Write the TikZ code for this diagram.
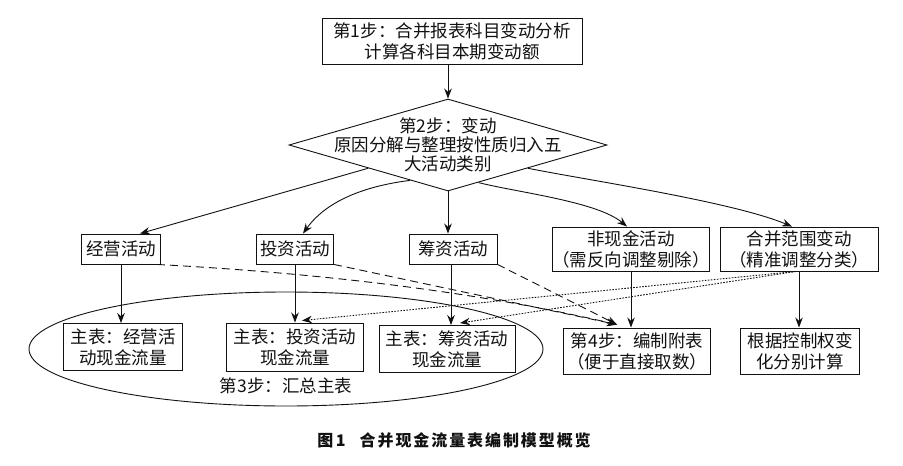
\documentclass[tikz,border=0pt]{standalone}
\usepackage{fontspec}
\usepackage{xcolor}
\usepackage{tikz}
\usetikzlibrary{arrows.meta,positioning,shapes.geometric}
\newfontfamily\zhfont{Noto Sans CJK SC}
\newfontfamily\zhcapfont[LetterSpace=12]{Noto Sans CJK SC}
\definecolor{ink}{HTML}{111111}

\begin{document}
\begin{tikzpicture}[x=1pt,y=-1pt,
  font=\zhfont\fontsize{17.5}{21}\selectfont,
  box/.style={draw=ink,line width=0.9pt,align=center,inner sep=0pt,text=ink},
  decision/.style={draw=ink,line width=0.9pt,diamond,inner sep=0pt,minimum width=318pt,minimum height=92pt},
  arr/.style={draw=ink,line width=0.9pt,-{Stealth[length=10pt,width=7.5pt]}},
  dashedarr/.style={arr,dash pattern=on 8pt off 5pt},
  dottedarr/.style={arr,dash pattern=on 1.6pt off 1.4pt}]
\useasboundingbox (0,0) rectangle (903,466);

\node[box,minimum width=260pt,minimum height=46pt] (s1) at (452,41) {第1步：合并报表科目变动分析\\计算各科目本期变动额};
\node[decision] (s2) at (448,145) {};
\node[align=center,text=ink,font=\zhfont\fontsize{17.5}{19}\selectfont] (s2t) at (s2) {第2步：变动\\原因分解与整理按性质归入五\\大活动类别};

\node[box,minimum width=79pt,minimum height=30pt] (a1) at (121,249) {经营活动};
\node[box,minimum width=77pt,minimum height=30pt] (a2) at (295,249) {投资活动};
\node[box,minimum width=88pt,minimum height=30pt] (a3) at (453,249) {筹资活动};
\node[box,minimum width=156pt,minimum height=44pt] (a4) at (631,249) {非现金活动\\（需反向调整剔除）};
\node[box,minimum width=158pt,minimum height=44pt] (a5) at (799,249) {合并范围变动\\（精准调整分类）};

\node[draw=ink,line width=0.9pt,ellipse,inner sep=0pt,minimum width=514pt,minimum height=114pt] (g3) at (286,349) {};
\node[text=ink] (g3t) at (286,386) {第3步：汇总主表};
\node[box,minimum width=119pt,minimum height=47pt] (b1) at (123,347) {主表：经营活\\动现金流量};
\node[box,minimum width=137pt,minimum height=48pt] (b2) at (295,347) {主表：投资活动\\现金流量};
\node[box,minimum width=136pt,minimum height=47pt] (b3) at (447,349) {主表：筹资活动\\现金流量};
\node[box,minimum width=147pt,minimum height=46pt] (b4) at (637,351) {第4步：编制附表\\（便于直接取数）};
\node[box,minimum width=119pt,minimum height=46pt] (b5) at (800,351) {根据控制权变\\化分别计算};

\node[text=ink,font=\zhcapfont\bfseries\fontsize{16}{19}\selectfont] (cap) at (454,440) {图\,1\hspace{14pt}合并现金流量表编制模型概览};

\draw[arr] (s1.south -| s2.north) -- (s2.north);
\draw[arr] (s2.south west) -- ([xshift=19pt]a1.north);
\draw[arr] (s2.223) .. controls +(-40,5) and +(25,-35) .. ([xshift=8pt]a2.north);
\draw[arr] (s2.south) -- (s2.south |- a3.north);
\draw[arr] (s2.309) .. controls +(40,10) and +(-30,-25) .. ([xshift=-4pt]a4.north);
\draw[arr] (s2.south east) .. controls +(60,12) and +(-60,-25) .. ([xshift=-7pt]a5.north);

\draw[arr] (a1.south) -- (a1.south |- b1.north);
\draw[arr] (a2.south) -- (a2.south |- b2.north);
\draw[arr] ([xshift=-2pt]a3.south) -- ([xshift=-2pt]a3.south |- b3.north);
\draw[arr] (a4.south) -- (a4.south |- b4.north);
\draw[arr] (a5.south) -- (a5.south |- b5.north);

\coordinate (d4) at ([xshift=-20pt,yshift=3pt]b4.north);
\draw[dashedarr] ([xshift=-4pt]a1.south east) .. controls +(150,8) and +(-150,-35) .. (d4);
\draw[dashedarr] (a2.south east) -- (d4);
\draw[dashedarr] (a3.south east) -- (d4);

\draw[dottedarr] ([xshift=-3pt]a5.south) -- ([xshift=7pt,yshift=2pt]b2.north);
\draw[dottedarr] ([xshift=-3pt]a5.south) -- ([xshift=13pt,yshift=2pt]b3.north);
\end{tikzpicture}
\end{document}
